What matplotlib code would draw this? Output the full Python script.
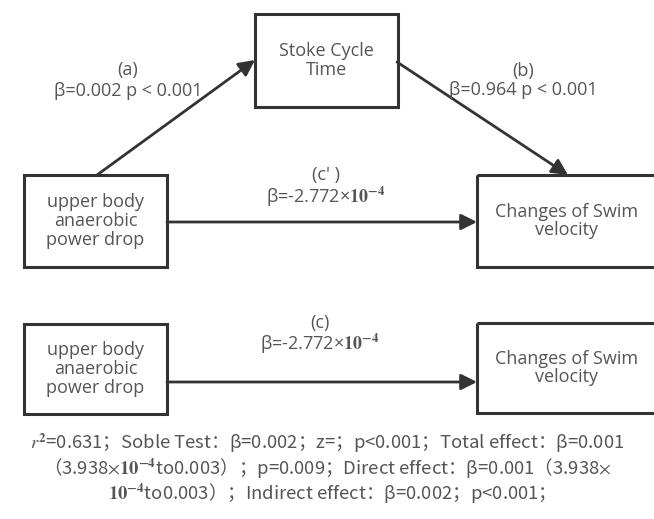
import matplotlib.pyplot as plt
from matplotlib.patches import Rectangle

plt.rcParams['font.family'] = ['Open Sans', 'Noto Sans CJK SC', 'DejaVu Sans']
plt.rcParams['mathtext.fontset'] = 'stix'

# ---- nodes: name, label, (x, y, w, h) in pixel coordinates ----
node_names = ["mediator", "x_top", "y_top", "x_bot", "y_bot"]
node_labels = ["Stoke Cycle\nTime",
               "upper body\nanaerobic\npower drop",
               "Changes of Swim\nvelocity",
               "upper body\nanaerobic\npower drop",
               "Changes of Swim\nvelocity"]
node_boxes = [(255, 14, 143, 93),
              (24, 175, 143, 92),
              (477, 175, 180, 92),
              (24, 324, 143, 90),
              (477, 323, 180, 90)]

# ---- paths: start, end, label lines ----
path_ends = [((97, 175), (255, 60)),
             ((397, 62), (568, 175)),
             ((167, 222), (477, 222)),
             ((167, 382), (477, 382))]
path_tags = ["(a)", "(b)", "(c' )", "(c)"]
path_betas = ["β=0.002 p < 0.001",
              "β=0.964 p < 0.001",
              r"β=-2.772×$\mathbf{10^{-4}}$",
              r"β=-2.772×$\mathbf{10^{-4}}$"]
label_pos = [(128, 70, 91), (523, 71, 90), (326, 175, 197), (320, 323, 344)]

footer = [r"$r^{\mathbf{2}}$=0.631；Soble Test：β=0.002；z=；p<0.001；Total effect：β=0.001",
          r"（3.938$\times\mathbf{10^{-4}}$to0.003）；p=0.009；Direct effect：β=0.001（3.938$\times$",
          r"$\mathbf{10^{-4}}$to0.003）；Indirect effect：β=0.002；p<0.001；"]
footer_y = [443, 469, 494]

line_col = "#333333"
text_col = "#555555"
fs = 13

fig = plt.figure(figsize=(6.54, 5.19), dpi=100)
ax = fig.add_axes([0, 0, 1, 1])
ax.set_xlim(0, 654)
ax.set_ylim(519, 0)
ax.axis('off')

for lab, (x, y, w, h) in zip(node_labels, node_boxes):
    ax.add_patch(Rectangle((x, y), w, h, fill=False, ec=line_col, lw=2.2,
                           clip_on=True))
    # right-hand boxes run off the canvas; keep their text where it shows
    ax.text(x + min(w, 155) / 2 + (w > 150) * 12, y + h / 2, lab,
            ha='center', va='center', fontsize=fs, color=text_col,
            linespacing=1.05)

for (p0, p1) in path_ends:
    ax.annotate("", xy=p1, xytext=p0,
                arrowprops=dict(arrowstyle='-|>', mutation_scale=24, lw=2,
                                color=line_col, shrinkA=0, shrinkB=0))

for tag, beta, (cx, ty, by) in zip(path_tags, path_betas, label_pos):
    ax.text(cx, ty, tag, ha='center', va='center', fontsize=fs, color=text_col)
    ax.text(cx, by, beta, ha='center', va='center', fontsize=fs, color=text_col)

for line, y in zip(footer, footer_y):
    ax.text(327, y, line, ha='center', va='center', fontsize=13.3,
            color=text_col, family='Noto Sans CJK SC')

fig.savefig("out.png", dpi=100)
